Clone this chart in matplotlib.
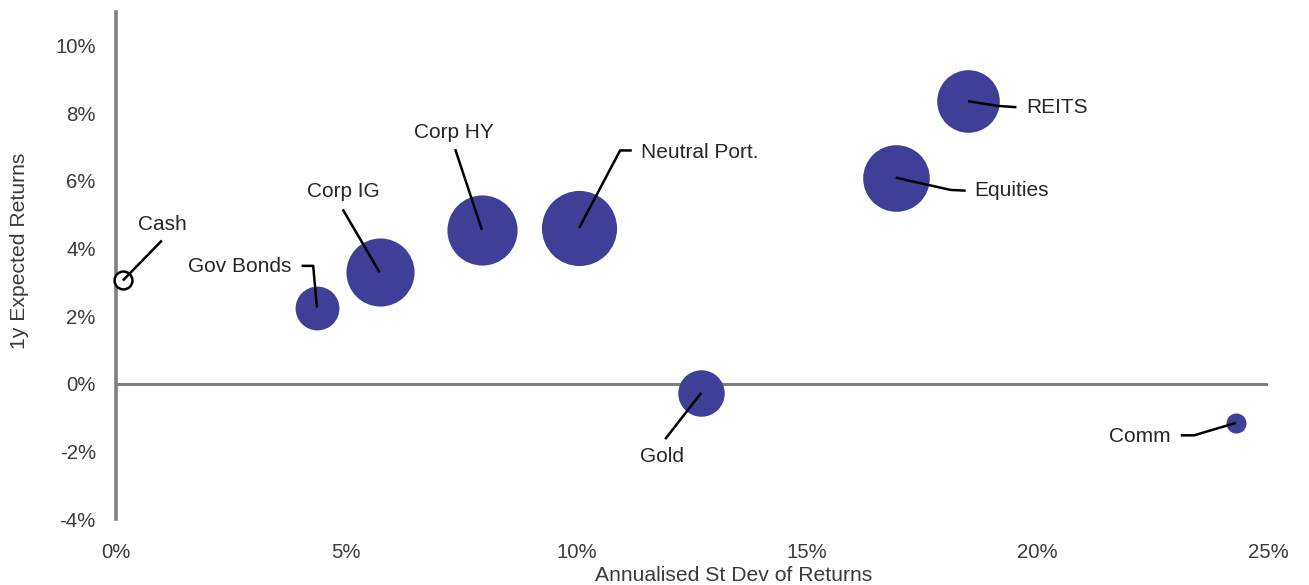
import matplotlib
matplotlib.use("Agg")
import matplotlib.pyplot as plt
import numpy as np

# Asset classes: annualised volatility (%), 1y expected return (%), bubble weight
assets = ["Cash", "Gov Bonds", "Corp IG", "Corp HY", "Neutral Port.",
          "Gold", "Equities", "REITS", "Comm"]
volatility = [0.15, 4.36, 5.72, 7.94, 10.05, 12.70, 16.92, 18.49, 24.30]
exp_return = [3.05, 2.25, 3.29, 4.55, 4.60, -0.27, 6.09, 8.35, -1.16]
bubble_weight = [0.8, 4.8, 11.6, 12.3, 14.1, 5.4, 11.1, 9.8, 1.0]

x_ticks = [0, 5, 10, 15, 20, 25]
y_ticks = [-4, -2, 0, 2, 4, 6, 8, 10]

# Leader-line layout: vertices as pixel offsets from the bubble centre,
# then the label anchor offset and alignment.
leaders = {
    "Cash":          ([(0, 0), (39, 40)], (39, 56), "center"),
    "Gov Bonds":     ([(0, 0), (-3.7, 41.7), (-15.3, 41.7)], (-26, 41), "right"),
    "Corp IG":       ([(0, 0), (-36.8, 63)], (-36.5, 80.5), "center"),
    "Corp HY":       ([(0, 0), (-26.7, 80.7)], (-27.7, 97), "center"),
    "Neutral Port.": ([(0, 0), (41, 77.6), (52.7, 77.6)], (61.7, 75.6), "left"),
    "Gold":          ([(0, 0), (-36, -46.3)], (-39, -64), "center"),
    "Equities":      ([(0, 0), (55, -12.3), (70, -13)], (79, -13.3), "left"),
    "REITS":         ([(0, 0), (29.4, -4.7), (48.4, -6)], (58.7, -6.4), "left"),
    "Comm":          ([(0, 0), (-41.7, -12.4), (-55, -12.4)], (-65, -13.7), "right"),
}

plt.rcParams["font.family"] = ["Liberation Sans", "DejaVu Sans"]

DPI = 100
fig = plt.figure(figsize=(13.09, 5.85), dpi=DPI)
ax = fig.add_axes([0.0886, 0.1128, 0.8801, 0.8675])

ax.set_xlim(0, 25)
ax.set_ylim(-4, 11)

BUBBLE = "#3f3f97"
AXIS_GREY = "#808080"
TEXT = "#262626"
TICK_TEXT = "#3a3a3a"

# bubble area proportional to weight (points^2)
sizes = [w * 207.36 for w in bubble_weight]
for name, x, y, s in zip(assets, volatility, exp_return, sizes):
    if name == "Cash":
        ax.scatter([x], [y], s=s, facecolor="white", edgecolor="black",
                   linewidth=1.8, zorder=4, clip_on=False)
    else:
        ax.scatter([x], [y], s=s, color=BUBBLE, linewidth=0, zorder=3,
                   clip_on=False)

# zero line acting as horizontal axis
ax.axhline(0, color=AXIS_GREY, linewidth=2.2, zorder=2)

for side in ["top", "right", "bottom"]:
    ax.spines[side].set_visible(False)
ax.spines["left"].set_color(AXIS_GREY)
ax.spines["left"].set_linewidth(2.6)

ax.set_xticks(x_ticks)
ax.set_xticklabels([f"{t}%" for t in x_ticks])
ax.set_yticks(y_ticks)
ax.set_yticklabels([f"{t}%" for t in y_ticks])
ax.tick_params(axis="both", length=0, labelsize=14.7, labelcolor=TICK_TEXT)
ax.tick_params(axis="y", pad=14.5)
ax.tick_params(axis="x", pad=17)

ax.set_ylabel("1y Expected Returns", fontsize=15.2, color=TICK_TEXT)
ax.yaxis.set_label_coords(-0.0755, 0.528)
ax.set_xlabel("Annualised St Dev of Returns", fontsize=15.2, color=TICK_TEXT)
ax.xaxis.set_label_coords(0.536, -0.092)

# leader lines and labels, placed in pixel offsets from each bubble
scale = DPI / 100.0
inv = ax.transData.inverted()
for name, x, y in zip(assets, volatility, exp_return):
    verts, (tx, ty), ha = leaders[name]
    cx, cy = ax.transData.transform((x, y))
    pts = np.array([(cx + dx * scale, cy + dy * scale) for dx, dy in verts])
    dpts = inv.transform(pts)
    ax.plot(dpts[:, 0], dpts[:, 1], color="black", linewidth=1.8,
            zorder=5, clip_on=False, solid_capstyle="butt")
    lx, ly = inv.transform((cx + tx * scale, cy + ty * scale))
    ax.text(lx, ly, name, ha=ha, va="center", fontsize=15, color=TEXT,
            zorder=6)

fig.savefig("out.png", dpi=DPI)
